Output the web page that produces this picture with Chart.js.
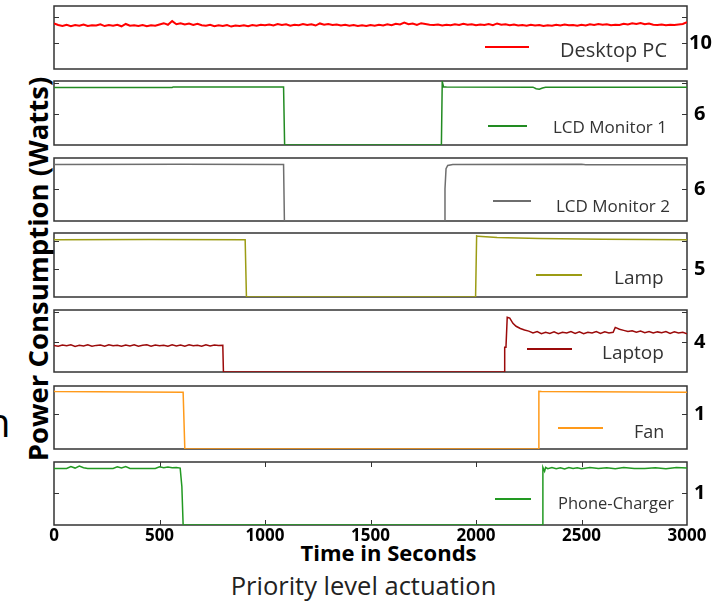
<!DOCTYPE html>
<html>
<head>
<meta charset="utf-8">
<script src="https://cdn.jsdelivr.net/npm/chart.js@4.4.1/dist/chart.umd.min.js"></script>
<style>
  body { margin: 0; background: #fff; }
  #wrap { position: relative; width: 720px; height: 602px; overflow: hidden; font-family: 'Open Sans', sans-serif; }
  #wrap canvas { position: absolute; left: 0; }
  .lbl { position: absolute; white-space: nowrap; line-height: 1; }
</style>
</head>
<body>
<div id="wrap">
  <div class="lbl" style="left:37.5px; top:268.5px; transform:translate(-50%,-50%) rotate(-90deg); font-weight:700; font-size:27.5px; color:#000;">Power Consumption (Watts)</div>
  <div class="lbl" style="left:388.5px; top:541px; transform:translateX(-50%); font-weight:700; font-size:22px; color:#000;">Time in Seconds</div>
  <div class="lbl" style="left:363.5px; top:573px; transform:translateX(-50%); font-size:25.5px; color:#222;">Priority level actuation</div>
  <div class="lbl" style="left:-14px; top:402px; font-size:40px; color:#000;">n</div>
</div>
<script>
// devices, top to bottom
const devices = ['Desktop PC', 'LCD Monitor 1', 'LCD Monitor 2', 'Lamp', 'Laptop', 'Fan', 'Phone-Charger'];
const rightLabels = ['10', '6', '6', '5', '4', '1', '1'];
const yStep = [10, 6, 6, 5, 4, 1, 1];
const yMax = [24.2, 12.4, 11.8, 11.4, 8.27, 1.8, 1.97];
const xMin = 0, xMax = 3000, xStep = 500;

// desktop pc is sampled every 20 s
const desktopStep = 20;
const desktopWatts = [
  17.5, 16.9, 16.5, 17.0, 16.4, 16.9, 16.6, 17.1, 16.5, 16.8,
  16.7, 17.2, 16.5, 16.9, 16.6, 17.0, 16.4, 17.3, 16.6, 16.8,
  16.5, 16.9, 16.4, 16.8, 16.6, 17.1, 17.6, 17.0, 18.4, 17.2,
  17.6, 17.1, 17.5, 16.9, 17.4, 16.8, 16.6, 17.0, 16.4, 16.8,
  16.5, 16.9, 16.3, 16.7, 16.5, 16.8, 16.4, 16.9, 16.6, 17.0,
  16.8, 17.1, 16.7, 17.3, 16.9, 17.2, 16.6, 17.0, 16.8, 17.3,
  16.9, 17.2, 16.7, 17.5, 17.0, 17.3, 16.9, 17.1, 16.7, 17.0,
  16.6, 16.9, 16.5, 16.8, 16.5, 16.9, 16.6, 17.0, 16.7, 17.2,
  16.8, 17.4, 17.1, 17.8, 17.2, 17.5, 16.9, 17.6, 17.3, 17.0,
  16.9, 17.1, 16.7, 17.0, 16.8, 17.2, 16.9, 17.4, 17.0, 17.2,
  16.8, 17.1, 16.9, 17.3, 16.8, 17.5, 17.0, 17.2, 16.8, 17.1,
  16.7, 16.9, 16.6, 17.0, 16.7, 16.9, 16.5, 16.8, 16.6, 17.0,
  16.7, 17.1, 16.8, 16.9, 16.6, 17.0, 16.7, 17.2, 16.9, 17.3,
  17.0, 17.2, 16.8, 17.0, 16.9, 17.4, 17.1, 17.6, 17.3, 17.7,
  17.2, 17.5, 17.0, 16.9, 17.1, 16.8, 17.0, 16.9, 17.1, 17.3,
  18.0
];
const desktopTimes = desktopWatts.map((w, k) => k * desktopStep);

const lcd1Times = [0, 560, 565, 1088, 1093, 1836, 1840, 1846, 1860, 2270, 2285, 2300, 2315, 2330, 2600, 3000];
const lcd1Watts = [11.15, 11.15, 11.25, 11.25, 0, 0, 12.3, 11.3, 11.25, 11.2, 10.9, 10.8, 11.05, 11.2, 11.2, 11.2];

const lcd2Times = [0, 600, 1088, 1092, 1850, 1853, 1858, 1866, 1890, 2500, 2520, 3000];
const lcd2Watts = [10.6, 10.65, 10.6, 0, 0, 6.0, 9.8, 10.4, 10.6, 10.65, 10.55, 10.55];

const lampTimes = [0, 5, 450, 906, 912, 1998, 2003, 2010, 2100, 2300, 2600, 3000];
const lampWatts = [10.35, 10.2, 10.25, 10.2, 0, 0, 10.9, 10.8, 10.6, 10.4, 10.3, 10.2];

const laptopTimes = [
  0, 20, 40, 60, 80, 100, 120, 140, 160, 180, 200, 220, 240, 260, 280, 300, 320, 340, 360, 380,
  400, 420, 440, 460, 480, 500, 520, 540, 560, 580, 600, 620, 640, 660, 680, 700, 720, 740, 760, 780, 800,
  803, 2133, 2136, 2142, 2148, 2160, 2175, 2190,
  2210, 2230, 2250, 2270, 2290, 2310, 2330, 2350, 2370, 2390, 2410, 2430, 2450, 2470, 2490, 2510,
  2530, 2550, 2570, 2590, 2610, 2630, 2650, 2660,
  2680, 2700, 2720, 2740, 2760, 2780, 2800, 2820, 2840, 2860, 2880, 2900, 2920, 2940, 2960, 2980, 3000
];
const laptopWatts = [
  3.55, 3.45, 3.6, 3.5, 3.62, 3.42, 3.58, 3.47, 3.63, 3.45, 3.55, 3.6, 3.43, 3.62, 3.5, 3.58, 3.44, 3.6, 3.48, 3.63,
  3.45, 3.57, 3.62, 3.44, 3.6, 3.5, 3.58, 3.43, 3.62, 3.48, 3.6, 3.45, 3.63, 3.5, 3.57, 3.44, 3.62, 3.47, 3.6, 3.52, 3.55,
  0, 0, 3.3, 3.3, 7.3, 7.2, 6.5, 6.1,
  5.8, 5.6, 5.45, 5.2, 5.4, 5.1, 5.3, 5.15, 5.35, 5.1, 5.3, 5.2, 5.4, 5.15, 5.35, 5.1,
  5.3, 5.2, 5.4, 5.15, 5.35, 5.2, 5.3, 5.95,
  5.7, 5.55, 5.4, 5.5, 5.3, 5.45, 5.25, 5.4, 5.2, 5.35, 5.25, 5.4, 5.15, 5.35, 5.2, 5.3, 5.1
];

const fanTimes = [0, 5, 400, 612, 620, 2295, 2298, 2310, 3000];
const fanWatts = [1.66, 1.64, 1.63, 1.62, 0, 0, 1.65, 1.64, 1.62];

const phoneTimes = [0, 60, 80, 100, 120, 140, 160, 280, 300, 320, 340, 360, 480, 500, 520, 540, 560, 580,
  598, 606, 612, 2314, 2317, 2325, 2330, 2340, 2360, 2380, 2400, 2420, 2440, 2460, 2480, 2500,
  2540, 2580, 2620, 2660, 2700, 2750, 2800, 2850, 2900, 2950, 3000];
const phoneWatts = [1.77, 1.77, 1.83, 1.78, 1.84, 1.79, 1.77, 1.77, 1.82, 1.78, 1.83, 1.77, 1.77, 1.82, 1.79, 1.81, 1.79, 1.8,
  1.78, 1.2, 0, 0, 1.8, 1.68, 1.8, 1.76, 1.8, 1.76, 1.79, 1.75, 1.8, 1.77, 1.79, 1.76,
  1.8, 1.77, 1.79, 1.76, 1.8, 1.77, 1.77, 1.79, 1.76, 1.8, 1.78];

const seriesTimes = [desktopTimes, lcd1Times, lcd2Times, lampTimes, laptopTimes, fanTimes, phoneTimes];
const seriesWatts = [desktopWatts, lcd1Watts, lcd2Watts, lampWatts, laptopWatts, fanWatts, phoneWatts];

// look
const colors = ['#ff0000', '#228b22', '#6e6e6e', '#9c9c14', '#9b0a0a', '#ff9a1a', '#229922'];
const lineWidths = [2, 1.5, 1.5, 1.5, 1.5, 1.5, 1.5];
const panelBoxes = [[6, 69], [81, 145], [158, 221], [233, 297], [310, 372], [386, 449], [462, 525]];
// legend: line x1, x2, line y, text x, text baseline, font size (page coords)
const legendBoxes = [
  [485, 529, 47, 560, 57, 20],
  [488, 527, 126, 553, 133, 17],
  [493, 531, 201, 556, 212, 17],
  [536, 582, 275, 614, 284, 19],
  [527, 572, 349, 602, 359, 19],
  [558, 603, 428, 634, 438, 18],
  [495, 531, 499, 558, 509, 16.5]
];

const wrap = document.getElementById('wrap');

const framePlugin = {
  id: 'frame',
  beforeDatasetsDraw(chart) {
    const { ctx, chartArea: a, scales } = chart;
    ctx.save();
    ctx.strokeStyle = '#333';
    ctx.lineWidth = 1.5;
    ctx.strokeRect(a.left, a.top, a.right - a.left, a.bottom - a.top);
    ctx.lineWidth = 1;
    ctx.beginPath();
    scales.y.ticks.forEach(t => {
      if (t.value <= scales.y.min || t.value >= scales.y.max) return;
      const y = Math.round(scales.y.getPixelForValue(t.value)) + 0.5;
      ctx.moveTo(a.left, y); ctx.lineTo(a.left + 5, y);
      ctx.moveTo(a.right - 5, y); ctx.lineTo(a.right, y);
    });
    if (scales.x.options.display) {
      scales.x.ticks.forEach(t => {
        if (t.value <= scales.x.min || t.value >= scales.x.max) return;
        const x = Math.round(scales.x.getPixelForValue(t.value)) + 0.5;
        ctx.moveTo(x, a.top); ctx.lineTo(x, a.top + 5);
        ctx.moveTo(x, a.bottom); ctx.lineTo(x, a.bottom - 5);
      });
    }
    ctx.stroke();
    ctx.restore();
  }
};

const legendPlugin = {
  id: 'panelLegend',
  afterDraw(chart, args, opts) {
    const { ctx } = chart;
    const [x1, x2, ly, tx, ty, size] = opts.box;
    const off = opts.offset;
    ctx.save();
    ctx.strokeStyle = opts.color;
    ctx.lineWidth = 2;
    ctx.beginPath();
    ctx.moveTo(x1, ly - off);
    ctx.lineTo(x2, ly - off);
    ctx.stroke();
    ctx.fillStyle = '#333';
    ctx.font = size + "px 'Open Sans'";
    ctx.textBaseline = 'alphabetic';
    ctx.fillText(opts.text, tx, ty - off);
    ctx.restore();
  }
};

devices.forEach((name, i) => {
  const [top, bottom] = panelBoxes[i];
  const last = i === devices.length - 1;
  const cTop = top - 4;
  const h = bottom - top + (last ? 4 + 24 : 8);
  const cv = document.createElement('canvas');
  cv.width = 720;
  cv.height = h;
  cv.style.top = cTop + 'px';
  wrap.appendChild(cv);

  const pts = seriesTimes[i].map((t, k) => ({ x: t, y: seriesWatts[i][k] }));

  new Chart(cv, {
    type: 'line',
    data: {
      datasets: [{
        label: name,
        data: pts,
        borderColor: colors[i],
        borderWidth: lineWidths[i],
        pointRadius: 0,
        tension: 0,
        fill: false
      }]
    },
    options: {
      responsive: false,
      animation: false,
      events: [],
      layout: { padding: { left: 54, right: 0, top: 4, bottom: last ? 0 : 4 } },
      plugins: {
        legend: { display: false },
        tooltip: { enabled: false },
        panelLegend: { box: legendBoxes[i], text: name, color: colors[i], offset: cTop }
      },
      scales: {
        x: {
          type: 'linear',
          min: xMin,
          max: xMax,
          display: last,
          grid: { display: false, drawTicks: false },
          border: { display: false },
          ticks: {
            stepSize: xStep,
            padding: 1,
            maxRotation: 0,
            color: '#000',
            font: { family: 'Open Sans', weight: 'bold', size: 17 },
            callback: v => String(v)
          },
          afterFit: s => {
            s.height = last ? 24 : 0;
            s.paddingLeft = 0;
            s.paddingRight = 0;
          }
        },
        y: {
          position: 'right',
          min: 0,
          max: yMax[i],
          grid: { display: false, drawTicks: false },
          border: { display: false },
          ticks: {
            stepSize: yStep[i],
            includeBounds: false,
            autoSkip: false,
            padding: rightLabels[i].length > 1 ? 2 : 7,
            color: '#000',
            font: { family: 'Open Sans', weight: 'bold', size: 20 },
            callback: v => (v === yStep[i] ? rightLabels[i] : '')
          },
          afterFit: s => {
            s.width = 33;
            s.paddingTop = 0;
            s.paddingBottom = 0;
          }
        }
      }
    },
    plugins: [framePlugin, legendPlugin]
  });
});
</script>
</body>
</html>
